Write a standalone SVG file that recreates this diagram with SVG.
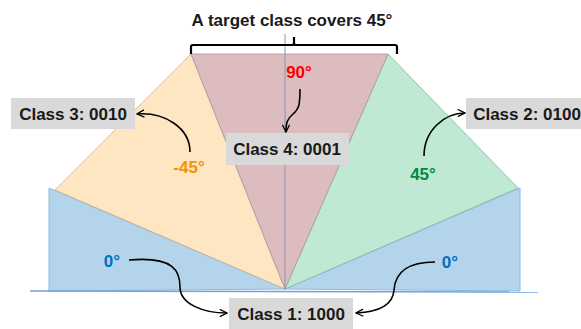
<svg xmlns="http://www.w3.org/2000/svg" width="581" height="329" viewBox="0 0 581 329">
<defs>
<marker id="ah" viewBox="0 0 10 10" refX="9" refY="5" markerWidth="9" markerHeight="9" markerUnits="userSpaceOnUse" orient="auto">
<path d="M1,1 L9,5 L1,9" fill="none" stroke="#000" stroke-width="1.4"/>
</marker>
</defs>
<style>
.lbl{font-family:"Liberation Sans",Arial,sans-serif;font-weight:bold;font-size:17px;fill:#1a1a1a;text-anchor:middle}
.deg{font-family:"Liberation Sans",Arial,sans-serif;font-weight:bold;font-size:17px;text-anchor:middle}
.box{fill:#d9d9d9}
.conn{fill:none;stroke:#000;stroke-width:1.6;marker-end:url(#ah)}
</style>
<rect width="581" height="329" fill="#fff"/>
<g id="sectors">
<polygon id="blueL" points="49,188 49,291 285,289" fill="#b4d4ec" stroke="#8fb8e0" stroke-width="1"/>
<polygon id="blueR" points="520,188 520,291 285,289" fill="#b4d4ec" stroke="#8fb8e0" stroke-width="1"/>
<polygon id="orange" points="285,289 55,190 191,54" fill="#fde6c1" stroke="#c8b090" stroke-width="0.8"/>
<polygon id="green" points="285,289 388,54 518,188" fill="#c0e9d3" stroke="#7fb8a0" stroke-width="0.8"/>
<polygon id="pink" points="285,289 191,54 388,54" fill="#dcbcbf" stroke="#a89898" stroke-width="0.8"/>
<line x1="30" y1="291" x2="538" y2="292" stroke="#6fa3d8" stroke-width="1.5"/>
<line x1="285" y1="34" x2="285" y2="290" stroke="#8a93b3" stroke-width="1"/>
</g>
<g id="title">
<text class="lbl" x="292" y="26">A target class covers 45°</text>
<path d="M191,54 L191,47 Q191,45 193,45 L292,45 Q294,45 294,43 L294,37 M294,43 Q294,45 296,45 L395,45 Q397,45 397,47 L397,54" fill="none" stroke="#000" stroke-width="2.2"/>
</g>
<g id="degrees">
<text class="deg" x="299" y="78" fill="#ff0000">90°</text>
<text class="deg" x="189" y="173" fill="#f79200">-45°</text>
<text class="deg" x="423" y="180" fill="#00893f">45°</text>
<text class="deg" x="112" y="267" fill="#0070c0">0°</text>
<text class="deg" x="450" y="268" fill="#0070c0">0°</text>
</g>
<g id="class3">
<rect class="box" x="11" y="98" width="124" height="31"/>
<text class="lbl" x="73" y="120">Class 3: 0010</text>
</g>
<g id="class2">
<rect class="box" x="466" y="98" width="115" height="31"/>
<text class="lbl" x="527" y="120">Class 2: 0100</text>
</g>
<g id="class4">
<rect class="box" x="226" y="133" width="123" height="32"/>
<text class="lbl" x="287" y="155">Class 4: 0001</text>
</g>
<g id="class1">
<rect class="box" x="229" y="298" width="124" height="31"/>
<text class="lbl" x="291" y="320">Class 1: 1000</text>
</g>
<g id="connectors">
<path class="conn" d="M190,152 C190,128 165,112 137,114"/>
<path class="conn" d="M424,156 C424,130 445,113 465,113"/>
<path class="conn" d="M300,89 C300,105 299,109 293,114 C287,119 286,123 286,132"/>
<path class="conn" d="M129,260 C175,256 180,272 180,287 C180,304 203,313 227,313"/>
<path class="conn" d="M435,262 C405,262 395,275 394,290 C393,305 378,312 356,313"/>
</g>
</svg>
